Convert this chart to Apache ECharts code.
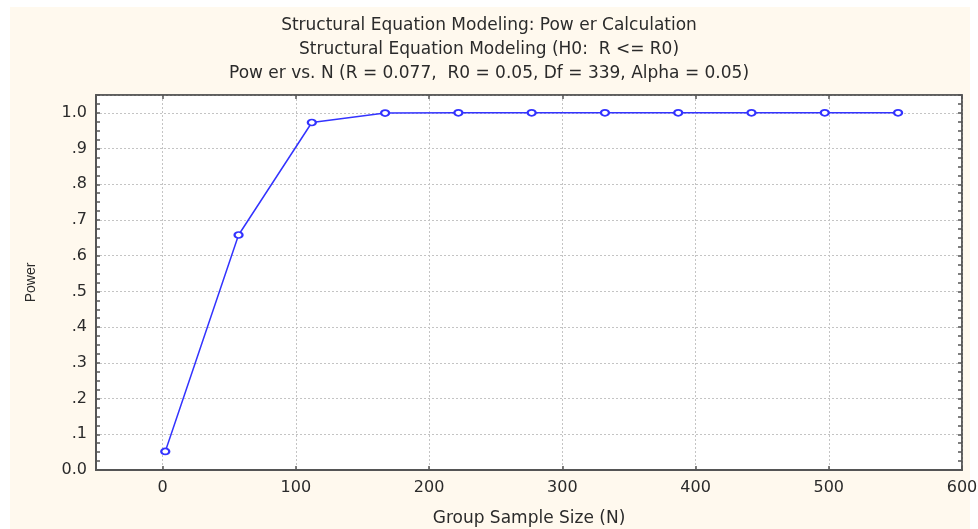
<!DOCTYPE html>
<html>
<head>
<meta charset="utf-8">
<script src="https://cdn.jsdelivr.net/npm/echarts@6/dist/echarts.min.js"></script>
<style>
  html, body { margin: 0; padding: 0; background: #fff; }
  #chart { width: 978px; height: 529px; }
</style>
</head>
<body>
<div id="chart"></div>
<script>
// group sample size and power
const sampleSizes = [2, 57, 112, 167, 222, 277, 332, 387, 442, 497, 552]
const powerValues = [0.052, 0.658, 0.973, 0.9995, 1, 1, 1, 1, 1, 1, 1]
const xTickValues = [0, 100, 200, 300, 400, 500, 600]
const titleLines = [
  'Structural Equation Modeling: Pow er Calculation',
  'Structural Equation Modeling (H0:  R <= R0)',
  'Pow er vs. N (R = 0.077,  R0 = 0.05, Df = 339, Alpha = 0.05)',
]

const FONT = 'DejaVu Sans'
const TEXT = '#2b2b2b'
const AXIS = '#555'
const GRID = '#c4c4c4'
const LINE = '#3333ff'

const chart = echarts.init(document.getElementById('chart'))

const tickStyle = { show: true, inside: true, length: 4, lineStyle: { color: AXIS, width: 1.5 } }

chart.setOption({
  backgroundColor: '#fff',
  animation: false,
  graphic: [
    {
      type: 'rect',
      z: -10,
      silent: true,
      shape: { x: 10, y: 7, width: 960, height: 522 },
      style: { fill: '#fff9ee' },
    },
  ],
  title: {
    text: titleLines.join('\n'),
    left: 'center',
    top: 9,
    textStyle: {
      fontFamily: FONT,
      fontSize: 17,
      fontWeight: 'normal',
      color: TEXT,
      lineHeight: 24,
    },
  },
  grid: {
    left: 96,
    right: 16,
    top: 95,
    bottom: 59,
    outerBoundsMode: 'none',
    show: true,
    backgroundColor: '#fff',
    borderColor: AXIS,
    borderWidth: 1.5,
  },
  xAxis: [
    {
      type: 'value',
      position: 'bottom',
      min: -50,
      max: 600,
      name: 'Group Sample Size (N)',
      nameLocation: 'middle',
      nameGap: 40,
      nameTextStyle: { fontFamily: FONT, fontSize: 17, color: TEXT },
      axisLine: { show: true, onZero: false, lineStyle: { color: AXIS, width: 2 } },
      axisTick: { ...tickStyle, customValues: xTickValues },
      axisLabel: {
        customValues: xTickValues,
        fontFamily: FONT,
        fontSize: 16,
        color: TEXT,
        margin: 10,
      },
      splitLine: { show: true, lineStyle: { color: GRID, type: [2, 2], width: 1 } },
    },
    {
      type: 'value',
      position: 'top',
      min: -50,
      max: 600,
      axisLine: { show: true, onZero: false, lineStyle: { color: AXIS, width: 1.5 } },
      axisTick: { ...tickStyle, customValues: xTickValues },
      axisLabel: { show: false, customValues: xTickValues },
      splitLine: { show: false },
    },
  ],
  yAxis: [
    {
      type: 'value',
      position: 'left',
      min: 0,
      max: 1.05,
      interval: 0.1,
      name: 'Power',
      nameLocation: 'middle',
      nameGap: 58,
      nameTextStyle: { fontFamily: 'Liberation Sans', fontSize: 14, color: TEXT },
      axisLine: { show: true, onZero: false, lineStyle: { color: AXIS, width: 2 } },
      axisTick: tickStyle,
      minorTick: { show: true, splitNumber: 4, length: 4, lineStyle: { color: AXIS, width: 1.5 } },
      axisLabel: {
        fontFamily: FONT,
        fontSize: 16,
        color: TEXT,
        margin: 9,
        formatter: (v) => {
          if (v > 1.01) return ''
          if (v === 0) return '0.0'
          if (Math.abs(v - 1) < 1e-9) return '1.0'
          return '.' + Math.round(v * 10)
        },
      },
      splitLine: { show: true, lineStyle: { color: GRID, type: [2, 2], width: 1 } },
    },
    {
      type: 'value',
      position: 'right',
      min: 0,
      max: 1.05,
      interval: 0.1,
      axisLine: { show: true, onZero: false, lineStyle: { color: AXIS, width: 1.5 } },
      axisTick: tickStyle,
      minorTick: { show: true, splitNumber: 4, length: 4, lineStyle: { color: AXIS, width: 1.5 } },
      axisLabel: { show: false },
      splitLine: { show: false },
    },
  ],
  series: [
    {
      type: 'line',
      xAxisIndex: 0,
      yAxisIndex: 0,
      data: sampleSizes.map((n, i) => [n, powerValues[i]]),
      symbol: 'emptyCircle',
      symbolSize: [8, 6],
      showAllSymbol: true,
      lineStyle: { color: LINE, width: 1.5 },
      itemStyle: { color: LINE, borderColor: LINE, borderWidth: 1.3 },
    },
  ],
})
</script>
</body>
</html>
